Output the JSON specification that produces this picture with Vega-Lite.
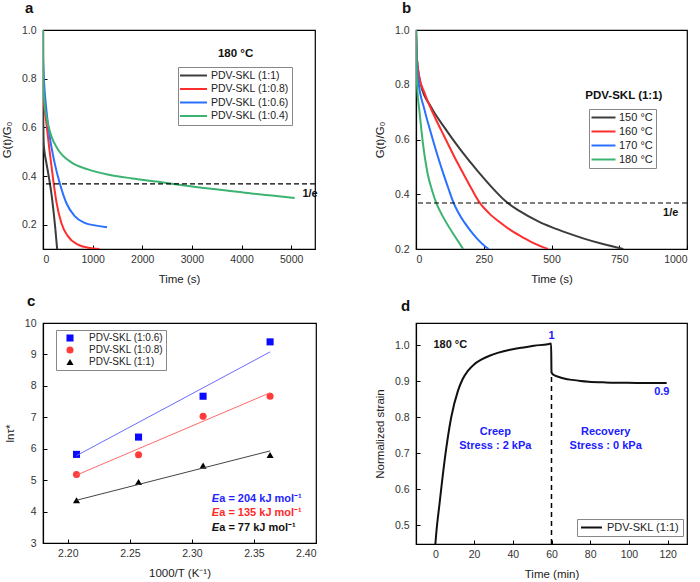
{
  "$schema": "https://vega.github.io/schema/vega-lite/v6.json",
  "background": "white",
  "padding": {"left": 0, "top": 0, "right": 0, "bottom": 0},
  "config": {
    "font": "Liberation Sans",
    "view": {"stroke": "#000", "strokeWidth": 1.2},
    "axis": {"grid": false, "domainColor": "#000", "domainWidth": 1.2, "tickColor": "#000", "tickSize": -4, "tickWidth": 1, "labelFontSize": 10.5, "titleFontSize": 11.5, "labelColor": "#333", "titleColor": "#222", "titleFontWeight": "normal", "labelFont": "Liberation Sans", "titleFont": "Liberation Sans", "labelOverlap": false},
    "axisX": {"labelPadding": 9, "titlePadding": 9},
    "axisY": {"labelPadding": 11, "titlePadding": 9},
    "title": {"fontSize": 15, "fontWeight": "bold", "anchor": "start", "frame": "group", "font": "Liberation Sans", "color": "#111"},
    "legend": {"labelFont": "Liberation Sans", "labelColor": "#222", "strokeColor": "#888", "padding": 3, "title": null, "orient": "none"},
    "text": {"font": "Liberation Sans", "fontWeight": "bold"}
  },
  "datasets": {
    "a": [
      {"s": "PDV-SKL (1:1)", "t": 0, "g": 1.0}, {"s": "PDV-SKL (1:1)", "t": 2, "g": 0.8}, {"s": "PDV-SKL (1:1)", "t": 5, "g": 0.62}, {"s": "PDV-SKL (1:1)", "t": 12, "g": 0.54}, {"s": "PDV-SKL (1:1)", "t": 30, "g": 0.5}, {"s": "PDV-SKL (1:1)", "t": 67, "g": 0.455}, {"s": "PDV-SKL (1:1)", "t": 110, "g": 0.405}, {"s": "PDV-SKL (1:1)", "t": 154, "g": 0.35}, {"s": "PDV-SKL (1:1)", "t": 190, "g": 0.295}, {"s": "PDV-SKL (1:1)", "t": 220, "g": 0.24}, {"s": "PDV-SKL (1:1)", "t": 250, "g": 0.18}, {"s": "PDV-SKL (1:1)", "t": 285, "g": 0.1},
      {"s": "PDV-SKL (1:0.8)", "t": 0, "g": 0.75}, {"s": "PDV-SKL (1:0.8)", "t": 10, "g": 0.72}, {"s": "PDV-SKL (1:0.8)", "t": 67, "g": 0.62}, {"s": "PDV-SKL (1:0.8)", "t": 134, "g": 0.5}, {"s": "PDV-SKL (1:0.8)", "t": 202, "g": 0.39}, {"s": "PDV-SKL (1:0.8)", "t": 269, "g": 0.295}, {"s": "PDV-SKL (1:0.8)", "t": 370, "g": 0.207}, {"s": "PDV-SKL (1:0.8)", "t": 504, "g": 0.152}, {"s": "PDV-SKL (1:0.8)", "t": 706, "g": 0.118}, {"s": "PDV-SKL (1:0.8)", "t": 907, "g": 0.105}, {"s": "PDV-SKL (1:0.8)", "t": 1140, "g": 0.1},
      {"s": "PDV-SKL (1:0.6)", "t": 0, "g": 0.88}, {"s": "PDV-SKL (1:0.6)", "t": 20, "g": 0.79}, {"s": "PDV-SKL (1:0.6)", "t": 67, "g": 0.674}, {"s": "PDV-SKL (1:0.6)", "t": 134, "g": 0.564}, {"s": "PDV-SKL (1:0.6)", "t": 234, "g": 0.454}, {"s": "PDV-SKL (1:0.6)", "t": 335, "g": 0.372}, {"s": "PDV-SKL (1:0.6)", "t": 470, "g": 0.289}, {"s": "PDV-SKL (1:0.6)", "t": 638, "g": 0.235}, {"s": "PDV-SKL (1:0.6)", "t": 840, "g": 0.207}, {"s": "PDV-SKL (1:0.6)", "t": 1075, "g": 0.196}, {"s": "PDV-SKL (1:0.6)", "t": 1290, "g": 0.189},
      {"s": "PDV-SKL (1:0.4)", "t": 0, "g": 1.0}, {"s": "PDV-SKL (1:0.4)", "t": 5, "g": 0.8}, {"s": "PDV-SKL (1:0.4)", "t": 30, "g": 0.7}, {"s": "PDV-SKL (1:0.4)", "t": 67, "g": 0.646}, {"s": "PDV-SKL (1:0.4)", "t": 168, "g": 0.564}, {"s": "PDV-SKL (1:0.4)", "t": 302, "g": 0.509}, {"s": "PDV-SKL (1:0.4)", "t": 571, "g": 0.456}, {"s": "PDV-SKL (1:0.4)", "t": 907, "g": 0.427}, {"s": "PDV-SKL (1:0.4)", "t": 1300, "g": 0.406}, {"s": "PDV-SKL (1:0.4)", "t": 1800, "g": 0.39}, {"s": "PDV-SKL (1:0.4)", "t": 2290, "g": 0.377}, {"s": "PDV-SKL (1:0.4)", "t": 2700, "g": 0.365}, {"s": "PDV-SKL (1:0.4)", "t": 3200, "g": 0.352}, {"s": "PDV-SKL (1:0.4)", "t": 3700, "g": 0.34}, {"s": "PDV-SKL (1:0.4)", "t": 4200, "g": 0.328}, {"s": "PDV-SKL (1:0.4)", "t": 4700, "g": 0.318}, {"s": "PDV-SKL (1:0.4)", "t": 5070, "g": 0.31}
    ],
    "b": [
      {"s": "150 °C", "t": 0, "g": 1.0}, {"s": "150 °C", "t": 3, "g": 0.9}, {"s": "150 °C", "t": 18, "g": 0.8}, {"s": "150 °C", "t": 55, "g": 0.72}, {"s": "150 °C", "t": 104, "g": 0.645}, {"s": "150 °C", "t": 166, "g": 0.56}, {"s": "150 °C", "t": 227, "g": 0.485}, {"s": "150 °C", "t": 280, "g": 0.425}, {"s": "150 °C", "t": 330, "g": 0.375}, {"s": "150 °C", "t": 380, "g": 0.34}, {"s": "150 °C", "t": 453, "g": 0.3}, {"s": "150 °C", "t": 500, "g": 0.28}, {"s": "150 °C", "t": 560, "g": 0.258}, {"s": "150 °C", "t": 620, "g": 0.238}, {"s": "150 °C", "t": 690, "g": 0.218}, {"s": "150 °C", "t": 765, "g": 0.2},
      {"s": "160 °C", "t": 0, "g": 1.0}, {"s": "160 °C", "t": 3, "g": 0.9}, {"s": "160 °C", "t": 12, "g": 0.83}, {"s": "160 °C", "t": 31, "g": 0.771}, {"s": "160 °C", "t": 68, "g": 0.685}, {"s": "160 °C", "t": 104, "g": 0.612}, {"s": "160 °C", "t": 140, "g": 0.54}, {"s": "160 °C", "t": 175, "g": 0.475}, {"s": "160 °C", "t": 205, "g": 0.42}, {"s": "160 °C", "t": 233, "g": 0.372}, {"s": "160 °C", "t": 270, "g": 0.33}, {"s": "160 °C", "t": 313, "g": 0.295}, {"s": "160 °C", "t": 355, "g": 0.265}, {"s": "160 °C", "t": 399, "g": 0.24}, {"s": "160 °C", "t": 440, "g": 0.219}, {"s": "160 °C", "t": 487, "g": 0.2},
      {"s": "170 °C", "t": 0, "g": 1.0}, {"s": "170 °C", "t": 2, "g": 0.9}, {"s": "170 °C", "t": 8, "g": 0.82}, {"s": "170 °C", "t": 31, "g": 0.71}, {"s": "170 °C", "t": 55, "g": 0.624}, {"s": "170 °C", "t": 80, "g": 0.54}, {"s": "170 °C", "t": 104, "g": 0.466}, {"s": "170 °C", "t": 120, "g": 0.42}, {"s": "170 °C", "t": 135, "g": 0.378}, {"s": "170 °C", "t": 155, "g": 0.335}, {"s": "170 °C", "t": 178, "g": 0.298}, {"s": "170 °C", "t": 200, "g": 0.268}, {"s": "170 °C", "t": 227, "g": 0.236}, {"s": "170 °C", "t": 250, "g": 0.214}, {"s": "170 °C", "t": 268, "g": 0.2},
      {"s": "180 °C", "t": 0, "g": 1.0}, {"s": "180 °C", "t": 2, "g": 0.85}, {"s": "180 °C", "t": 5, "g": 0.78}, {"s": "180 °C", "t": 12, "g": 0.71}, {"s": "180 °C", "t": 25, "g": 0.59}, {"s": "180 °C", "t": 43, "g": 0.475}, {"s": "180 °C", "t": 60, "g": 0.412}, {"s": "180 °C", "t": 74, "g": 0.37}, {"s": "180 °C", "t": 104, "g": 0.31}, {"s": "180 °C", "t": 141, "g": 0.25}, {"s": "180 °C", "t": 174, "g": 0.2}
    ],
    "cpts": [
      {"s": "PDV-SKL (1:0.6)", "x": 2.207, "y": 5.82}, {"s": "PDV-SKL (1:0.6)", "x": 2.257, "y": 6.37}, {"s": "PDV-SKL (1:0.6)", "x": 2.309, "y": 7.67}, {"s": "PDV-SKL (1:0.6)", "x": 2.363, "y": 9.4},
      {"s": "PDV-SKL (1:0.8)", "x": 2.207, "y": 5.18}, {"s": "PDV-SKL (1:0.8)", "x": 2.257, "y": 5.81}, {"s": "PDV-SKL (1:0.8)", "x": 2.309, "y": 7.03}, {"s": "PDV-SKL (1:0.8)", "x": 2.363, "y": 7.67},
      {"s": "PDV-SKL (1:1)", "x": 2.207, "y": 4.36}, {"s": "PDV-SKL (1:1)", "x": 2.257, "y": 4.94}, {"s": "PDV-SKL (1:1)", "x": 2.309, "y": 5.46}, {"s": "PDV-SKL (1:1)", "x": 2.363, "y": 5.8}
    ],
    "cfit": [
      {"f": "fit (1:0.6)", "x": 2.207, "y": 5.78}, {"f": "fit (1:0.6)", "x": 2.363, "y": 9.08},
      {"f": "fit (1:0.8)", "x": 2.207, "y": 5.16}, {"f": "fit (1:0.8)", "x": 2.363, "y": 7.78},
      {"f": "fit (1:1)", "x": 2.207, "y": 4.36}, {"f": "fit (1:1)", "x": 2.363, "y": 5.93}
    ],
    "d": [
      {"s": "PDV-SKL (1:1)", "t": 0, "e": 0.448}, {"s": "PDV-SKL (1:1)", "t": 0.5, "e": 0.48}, {"s": "PDV-SKL (1:1)", "t": 2.2, "e": 0.562}, {"s": "PDV-SKL (1:1)", "t": 4.8, "e": 0.681}, {"s": "PDV-SKL (1:1)", "t": 8.2, "e": 0.8}, {"s": "PDV-SKL (1:1)", "t": 11.7, "e": 0.874}, {"s": "PDV-SKL (1:1)", "t": 14, "e": 0.905}, {"s": "PDV-SKL (1:1)", "t": 16.8, "e": 0.929}, {"s": "PDV-SKL (1:1)", "t": 20, "e": 0.947}, {"s": "PDV-SKL (1:1)", "t": 23.7, "e": 0.96}, {"s": "PDV-SKL (1:1)", "t": 28, "e": 0.971}, {"s": "PDV-SKL (1:1)", "t": 32.2, "e": 0.979}, {"s": "PDV-SKL (1:1)", "t": 38, "e": 0.987}, {"s": "PDV-SKL (1:1)", "t": 44.2, "e": 0.993}, {"s": "PDV-SKL (1:1)", "t": 51, "e": 0.999}, {"s": "PDV-SKL (1:1)", "t": 58, "e": 1.003}, {"s": "PDV-SKL (1:1)", "t": 59.8, "e": 1.005}, {"s": "PDV-SKL (1:1)", "t": 60, "e": 0.925}, {"s": "PDV-SKL (1:1)", "t": 61, "e": 0.918}, {"s": "PDV-SKL (1:1)", "t": 63.8, "e": 0.912}, {"s": "PDV-SKL (1:1)", "t": 67, "e": 0.907}, {"s": "PDV-SKL (1:1)", "t": 70.6, "e": 0.904}, {"s": "PDV-SKL (1:1)", "t": 75, "e": 0.901}, {"s": "PDV-SKL (1:1)", "t": 79.2, "e": 0.899}, {"s": "PDV-SKL (1:1)", "t": 88, "e": 0.897}, {"s": "PDV-SKL (1:1)", "t": 96.4, "e": 0.896}, {"s": "PDV-SKL (1:1)", "t": 108, "e": 0.895}, {"s": "PDV-SKL (1:1)", "t": 119.5, "e": 0.895}
    ]
  },
  "bounds": "flush",
  "columns": 2,
  "spacing": {"row": 74, "column": 100},
  "resolve": {"scale": {"color": "independent", "shape": "independent", "stroke": "independent", "x": "independent", "y": "independent"}, "legend": {"color": "independent", "shape": "independent"}},
  "concat": [
    {
      "width": 272, "height": 219,
      "title": {"text": "a", "dx": -18, "offset": 9},
      "layer": [
        {
          "data": {"name": "a"},
          "mark": {"type": "line", "strokeWidth": 2, "clip": true, "interpolate": "monotone"},
          "encoding": {
            "x": {"field": "t", "type": "quantitative", "scale": {"domain": [0, 5480], "nice": false}, "axis": {"values": [0, 1000, 2000, 3000, 4000, 5000], "format": "d", "title": "Time (s)"}},
            "y": {"field": "g", "type": "quantitative", "scale": {"domain": [0.1, 1.0], "nice": false, "zero": false}, "axis": {"values": [0.2, 0.4, 0.6, 0.8, 1.0], "format": ".1f", "title": "G(t)/G₀"}},
            "color": {"field": "s", "type": "nominal", "sort": null,
              "scale": {"domain": ["PDV-SKL (1:1)", "PDV-SKL (1:0.8)", "PDV-SKL (1:0.6)", "PDV-SKL (1:0.4)"], "range": ["#3c3c3c", "#ff2e2e", "#2a70ff", "#3cb371"]},
              "legend": {"legendX": 135, "legendY": 37, "symbolType": "M-3,0H3", "symbolSize": 81, "symbolStrokeWidth": 2, "symbolOffset": 7, "labelOffset": 12, "labelFontSize": 10.5, "rowPadding": 2.5}}
          }
        },
        {"data": {"values": [{}]}, "mark": {"type": "rule", "strokeDash": [5, 3], "color": "#000", "strokeWidth": 1.2}, "encoding": {"y": {"datum": 0.368}}},
        {"data": {"values": [{}]}, "mark": {"type": "text", "fontSize": 11, "color": "#111"}, "encoding": {"x": {"datum": 5380}, "y": {"datum": 0.327}, "text": {"value": "1/e"}}},
        {"data": {"values": [{}]}, "mark": {"type": "text", "fontSize": 11.5, "color": "#111"}, "encoding": {"x": {"datum": 3880}, "y": {"datum": 0.9}, "text": {"value": "180 °C"}}}
      ]
    },
    {
      "width": 271, "height": 219,
      "title": {"text": "b", "dx": -14, "offset": 9},
      "layer": [
        {
          "data": {"name": "b"},
          "mark": {"type": "line", "strokeWidth": 2, "clip": true, "interpolate": "monotone"},
          "encoding": {
            "x": {"field": "t", "type": "quantitative", "scale": {"domain": [0, 1000], "nice": false}, "axis": {"values": [0, 250, 500, 750, 1000], "format": "d", "title": "Time (s)"}},
            "y": {"field": "g", "type": "quantitative", "scale": {"domain": [0.2, 1.0], "nice": false, "zero": false}, "axis": {"values": [0.2, 0.4, 0.6, 0.8, 1.0], "format": ".1f", "title": "G(t)/G₀"}},
            "color": {"field": "s", "type": "nominal", "sort": null,
              "scale": {"domain": ["150 °C", "160 °C", "170 °C", "180 °C"], "range": ["#3c3c3c", "#ff2e2e", "#2a70ff", "#3cb371"]},
              "legend": {"legendX": 173, "legendY": 79, "symbolType": "M-3,0H3", "symbolSize": 64, "symbolStrokeWidth": 2, "symbolOffset": 6, "labelOffset": 10, "labelFontSize": 11, "rowPadding": 2}}
          }
        },
        {"data": {"values": [{}]}, "mark": {"type": "rule", "strokeDash": [5, 3], "color": "#000", "strokeWidth": 1.2}, "encoding": {"y": {"datum": 0.368}}},
        {"data": {"values": [{}]}, "mark": {"type": "text", "fontSize": 11, "color": "#111"}, "encoding": {"x": {"datum": 940}, "y": {"datum": 0.332}, "text": {"value": "1/e"}}},
        {"data": {"values": [{}]}, "mark": {"type": "text", "fontSize": 11.5, "color": "#111"}, "encoding": {"x": {"datum": 767}, "y": {"datum": 0.76}, "text": {"value": "PDV-SKL (1:1)"}}}
      ]
    },
    {
      "width": 273, "height": 220,
      "title": {"text": "c", "dx": -16, "offset": 9},
      "layer": [
        {
          "data": {"name": "cpts"},
          "mark": {"type": "point", "filled": true, "opacity": 1, "size": 50},
          "encoding": {
            "x": {"field": "x", "type": "quantitative", "scale": {"domain": [2.18, 2.4], "nice": false, "zero": false}, "axis": {"values": [2.2, 2.25, 2.3, 2.35, 2.4], "format": ".2f", "title": "1000/T (K⁻¹)"}},
            "y": {"field": "y", "type": "quantitative", "scale": {"domain": [3, 10], "nice": false, "zero": false}, "axis": {"tickCount": 8, "format": ".0f", "labelOverlap": false, "title": "lnτ*"}},
            "color": {"field": "s", "type": "nominal", "sort": null, "scale": {"domain": ["PDV-SKL (1:0.6)", "PDV-SKL (1:0.8)", "PDV-SKL (1:1)"], "range": ["#0a0aff", "#ff3b3b", "#000000"]},
              "legend": {"legendX": 13, "legendY": 7, "labelFontSize": 10, "rowPadding": 2, "symbolSize": 50, "symbolOffset": 6, "labelOffset": 14}},
            "shape": {"field": "s", "type": "nominal", "sort": null, "scale": {"domain": ["PDV-SKL (1:0.6)", "PDV-SKL (1:0.8)", "PDV-SKL (1:1)"], "range": ["square", "circle", "triangle-up"]},
              "legend": {"legendX": 13, "legendY": 7, "labelFontSize": 10, "rowPadding": 2, "symbolSize": 50, "symbolOffset": 6, "labelOffset": 14}}
          }
        },
        {
          "data": {"name": "cfit"},
          "mark": {"type": "line", "strokeWidth": 1},
          "encoding": {
            "x": {"field": "x", "type": "quantitative"},
            "y": {"field": "y", "type": "quantitative"},
            "stroke": {"field": "f", "type": "nominal", "scale": {"domain": ["fit (1:0.6)", "fit (1:0.8)", "fit (1:1)"], "range": ["#6b6bff", "#ff6b6b", "#444444"]}, "legend": null}
          }
        },
        {"data": {"values": [{}]}, "mark": {"type": "text", "fontSize": 11, "fontStyle": "italic", "align": "right", "color": "#1f1fff"}, "encoding": {"x": {"datum": 2.322}, "y": {"datum": 4.41}, "text": {"value": "E"}}},
        {"data": {"values": [{}]}, "mark": {"type": "text", "fontSize": 11, "align": "left", "color": "#1f1fff"}, "encoding": {"x": {"datum": 2.322}, "y": {"datum": 4.41}, "text": {"value": "a = 204 kJ mol⁻¹"}}},
        {"data": {"values": [{}]}, "mark": {"type": "text", "fontSize": 11, "fontStyle": "italic", "align": "right", "color": "#ff2a2a"}, "encoding": {"x": {"datum": 2.322}, "y": {"datum": 3.95}, "text": {"value": "E"}}},
        {"data": {"values": [{}]}, "mark": {"type": "text", "fontSize": 11, "align": "left", "color": "#ff2a2a"}, "encoding": {"x": {"datum": 2.322}, "y": {"datum": 3.95}, "text": {"value": "a = 135 kJ mol⁻¹"}}},
        {"data": {"values": [{}]}, "mark": {"type": "text", "fontSize": 11, "fontStyle": "italic", "align": "right", "color": "#111"}, "encoding": {"x": {"datum": 2.322}, "y": {"datum": 3.47}, "text": {"value": "E"}}},
        {"data": {"values": [{}]}, "mark": {"type": "text", "fontSize": 11, "align": "left", "color": "#111"}, "encoding": {"x": {"datum": 2.322}, "y": {"datum": 3.47}, "text": {"value": "a = 77 kJ mol⁻¹"}}}
      ]
    },
    {
      "width": 271, "height": 221,
      "title": {"text": "d", "dx": -15, "offset": 9},
      "layer": [
        {"data": {"values": [{}]}, "mark": {"type": "rule", "strokeDash": [5, 4], "color": "#000", "strokeWidth": 1.5}, "encoding": {"x": {"datum": 60}, "y": {"datum": 0.448}, "y2": {"datum": 0.925}}},
        {
          "data": {"name": "d"},
          "mark": {"type": "line", "strokeWidth": 2, "clip": true, "interpolate": "monotone"},
          "encoding": {
            "x": {"field": "t", "type": "quantitative", "scale": {"domain": [-10, 130], "nice": false}, "axis": {"values": [0, 20, 40, 60, 80, 100, 120], "title": "Time (min)"}},
            "y": {"field": "e", "type": "quantitative", "scale": {"domain": [0.448, 1.062], "nice": false, "zero": false}, "axis": {"values": [0.5, 0.6, 0.7, 0.8, 0.9, 1.0], "format": ".1f", "title": "Normalized strain"}},
            "color": {"field": "s", "type": "nominal", "scale": {"range": ["#111111"]},
              "legend": {"legendX": 161, "legendY": 196, "symbolType": "M-3,0H3", "symbolSize": 49, "symbolStrokeWidth": 2, "symbolOffset": 6, "labelOffset": 10, "labelFontSize": 11}}
          }
        },
        {"data": {"values": [{}]}, "mark": {"type": "text", "fontSize": 11, "align": "left", "color": "#111"}, "encoding": {"x": {"datum": -1}, "y": {"datum": 1.0}, "text": {"value": "180 °C"}}},
        {"data": {"values": [{}]}, "mark": {"type": "text", "fontSize": 11, "color": "#2020ff"}, "encoding": {"x": {"datum": 60}, "y": {"datum": 1.027}, "text": {"value": "1"}}},
        {"data": {"values": [{}]}, "mark": {"type": "text", "fontSize": 11, "color": "#2020ff"}, "encoding": {"x": {"datum": 117}, "y": {"datum": 0.871}, "text": {"value": "0.9"}}},
        {"data": {"values": [{}]}, "mark": {"type": "text", "fontSize": 11, "color": "#2020ff"}, "encoding": {"x": {"datum": 31}, "y": {"datum": 0.758}, "text": {"value": "Creep"}}},
        {"data": {"values": [{}]}, "mark": {"type": "text", "fontSize": 11, "color": "#2020ff"}, "encoding": {"x": {"datum": 31}, "y": {"datum": 0.72}, "text": {"value": "Stress : 2 kPa"}}},
        {"data": {"values": [{}]}, "mark": {"type": "text", "fontSize": 11, "color": "#2020ff"}, "encoding": {"x": {"datum": 88}, "y": {"datum": 0.758}, "text": {"value": "Recovery"}}},
        {"data": {"values": [{}]}, "mark": {"type": "text", "fontSize": 11, "color": "#2020ff"}, "encoding": {"x": {"datum": 88}, "y": {"datum": 0.72}, "text": {"value": "Stress : 0 kPa"}}}
      ]
    }
  ]
}
